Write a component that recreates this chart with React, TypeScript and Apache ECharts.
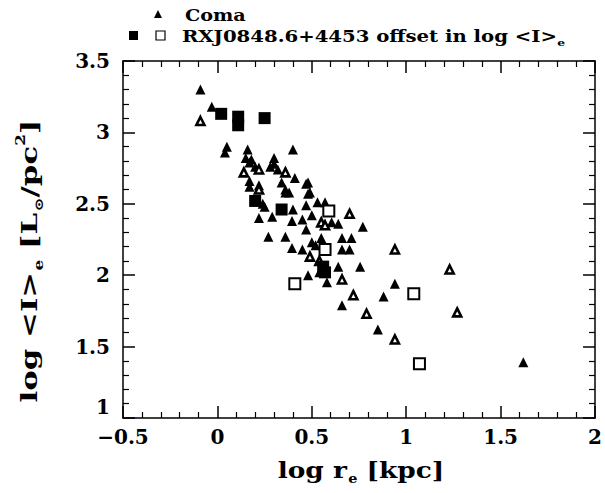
import React, { useEffect, useRef } from "react";
import * as echarts from "echarts";

// Coma galaxies (filled triangles)
const comaFilled: [number, number][] = [
  [-0.09, 3.30], [-0.03, 3.18], [0.05, 2.90], [0.04, 2.86], [0.16, 2.88], [0.15, 2.82],
  [0.18, 2.81], [0.30, 2.82], [0.30, 2.78], [0.40, 2.88], [0.32, 2.74], [0.41, 2.68],
  [0.48, 2.65], [0.49, 2.58], [0.17, 2.62], [0.22, 2.63], [0.34, 2.65], [0.36, 2.60],
  [0.38, 2.58], [0.24, 2.50], [0.17, 2.79], [0.20, 2.76], [0.28, 2.76], [0.47, 2.64],
  [0.17, 2.66], [0.36, 2.58], [0.48, 2.57], [0.25, 2.48], [0.40, 2.46], [0.53, 2.51],
  [0.57, 2.51], [0.47, 2.49], [0.50, 2.42], [0.45, 2.39], [0.605, 2.37], [0.64, 2.36],
  [0.77, 2.34], [0.22, 2.40], [0.29, 2.41], [0.395, 2.38], [0.27, 2.27], [0.36, 2.27],
  [0.395, 2.19], [0.47, 2.32], [0.50, 2.23], [0.55, 2.26], [0.45, 2.18], [0.52, 2.21],
  [0.66, 2.26], [0.71, 2.26], [0.66, 2.18], [0.70, 2.18], [0.64, 2.06], [0.756, 2.06],
  [0.48, 2.00], [0.58, 1.95], [0.88, 1.85], [0.94, 1.94], [0.66, 1.79], [0.85, 1.62],
  [1.62, 1.39], [0.54, 2.02],
];

// Coma galaxies (open triangles)
const comaOpen: [number, number][] = [
  [-0.09, 3.08], [0.14, 2.72], [0.22, 2.74], [0.36, 2.72], [0.22, 2.60], [0.55, 2.37],
  [0.57, 2.35], [0.70, 2.43], [0.49, 2.13], [0.94, 2.18], [1.23, 2.04], [0.66, 1.97],
  [0.72, 1.86], [0.79, 1.73], [0.94, 1.55], [1.27, 1.74], [0.54, 2.10],
];

// RXJ0848.6+4453 galaxies (filled squares)
const rxjFilled: [number, number][] = [
  [0.02, 3.13], [0.11, 3.11], [0.11, 3.05], [0.25, 3.10], [0.20, 2.52], [0.34, 2.46],
  [0.56, 2.06], [0.57, 2.02],
];

// RXJ0848.6+4453 offset in log <I>e (open squares)
const rxjOffset: [number, number][] = [
  [0.59, 2.45], [0.57, 2.18], [0.41, 1.94], [1.04, 1.87], [1.07, 1.38],
];

const FONT = "DejaVu Serif";

export default function App() {
  const ref = useRef<HTMLDivElement>(null);
  useEffect(() => {
    const chart = echarts.init(ref.current!, null, { renderer: "svg" });
    const lineStyle = { color: "#000", width: 1.5 };
    const tickCommon = {
      axisLine: { show: true, onZero: false, lineStyle },
      axisTick: { show: true, inside: true, length: 12, lineStyle },
      minorTick: { show: true, splitNumber: 5, length: 6, lineStyle: { color: "#000", width: 1.2 } },
      splitLine: { show: false },
    };
    const labelStyle = { color: "#000", fontFamily: FONT, fontWeight: "bold", fontSize: 20 };
    const fmt = (v: number) => (v < 0 ? "\u2212" + Math.abs(v) : String(v));
    const nameRich = {
      a: { fontFamily: FONT, fontWeight: "bold", fontSize: 22, fill: "#000", lineHeight: 30 },
      sub: { fontFamily: FONT, fontWeight: "bold", fontSize: 12, fill: "#000", verticalAlign: "bottom", lineHeight: 30, padding: [0, 0, 0, 1] },
      sup: { fontFamily: FONT, fontWeight: "bold", fontSize: 12, fill: "#000", verticalAlign: "top", lineHeight: 30 },
    };
    chart.setOption({
      animation: false,
      backgroundColor: "#fff",
      grid: { left: 123, top: 61, right: 7, bottom: 75 },
      xAxis: [
        {
          type: "value", min: -0.5, max: 2, interval: 0.5, position: "bottom", ...tickCommon,
          axisLabel: { ...labelStyle, margin: 9, formatter: fmt },
        },
        {
          type: "value", min: -0.5, max: 2, interval: 0.5, position: "top", ...tickCommon,
          axisLabel: { show: false },
        },
      ],
      yAxis: [
        {
          type: "value", min: 1, max: 3.5, interval: 0.5, position: "left", ...tickCommon,
          axisLabel: {
            ...labelStyle, margin: 13,
            formatter: (v: number) => (v === 1 ? "{low|1}" : "{n|" + v + "}"),
            rich: {
              n: { fontFamily: FONT, fontWeight: "bold", fontSize: 20, color: "#000" },
              low: { fontFamily: FONT, fontWeight: "bold", fontSize: 20, color: "#000", padding: [0, 0, 22, 0] },
            },
          },
        },
        {
          type: "value", min: 1, max: 3.5, interval: 0.5, position: "right", ...tickCommon,
          axisLabel: { show: false },
        },
      ],
      graphic: [
        // axis titles
        {
          type: "text", x: 361, y: 470, scaleX: 1.2,
          style: { text: "{a|log r}{sub|e}{a| [kpc]}", align: "center", verticalAlign: "middle", rich: nameRich },
        },
        {
          type: "text", x: 29, y: 261, rotation: Math.PI / 2, scaleX: 1.4,
          style: {
            text: "{a|log <I>}{sub|e}{a| [L}{sub|\u2299}{a|/pc}{sup|2}{a|]}",
            align: "center", verticalAlign: "middle", rich: nameRich,
          },
        },
        // legend
        { type: "polygon", shape: { points: [[154, 18], [162, 18], [158, 10]] }, style: { fill: "#000" } },
        { type: "text", x: 185, y: 15, scaleX: 1.2, style: { text: "Coma", fill: "#000", font: `bold 16px "${FONT}"`, verticalAlign: "middle" } },
        { type: "rect", shape: { x: 129, y: 31, width: 9, height: 9 }, style: { fill: "#000" } },
        { type: "rect", shape: { x: 156, y: 31, width: 9, height: 9 }, style: { fill: "#fff", stroke: "#000", lineWidth: 1.2 } },
        {
          type: "text", x: 182, y: 36, scaleX: 1.23,
          style: {
            text: "{a|RXJ0848.6+4453 offset in log <I>}{s|e}",
            verticalAlign: "middle",
            rich: {
              a: { fontFamily: FONT, fontWeight: "bold", fontSize: 16, fill: "#000", lineHeight: 22 },
              s: { fontFamily: FONT, fontWeight: "bold", fontSize: 10, fill: "#000", verticalAlign: "bottom", lineHeight: 22 },
            },
          },
        },
      ],
      series: [
        {
          type: "scatter", data: comaFilled, symbol: "triangle", symbolSize: 10,
          itemStyle: { color: "#000", opacity: 1 }, silent: true,
        },
        {
          type: "scatter", data: comaOpen, symbol: "triangle", symbolSize: 8,
          itemStyle: { color: "#fff", borderColor: "#000", borderWidth: 2.6, opacity: 1 }, silent: true,
        },
        {
          type: "scatter", data: rxjFilled, symbol: "rect", symbolSize: 12,
          itemStyle: { color: "#000", opacity: 1 }, silent: true,
        },
        {
          type: "scatter", data: rxjOffset, symbol: "rect", symbolSize: 11,
          itemStyle: { color: "#fff", borderColor: "#000", borderWidth: 2, opacity: 1 }, silent: true, z: 5,
        },
      ],
    });
    return () => chart.dispose();
  }, []);
  return <div ref={ref} style={{ position: "fixed", left: 0, top: 0, width: 605, height: 493 }} />;
}
